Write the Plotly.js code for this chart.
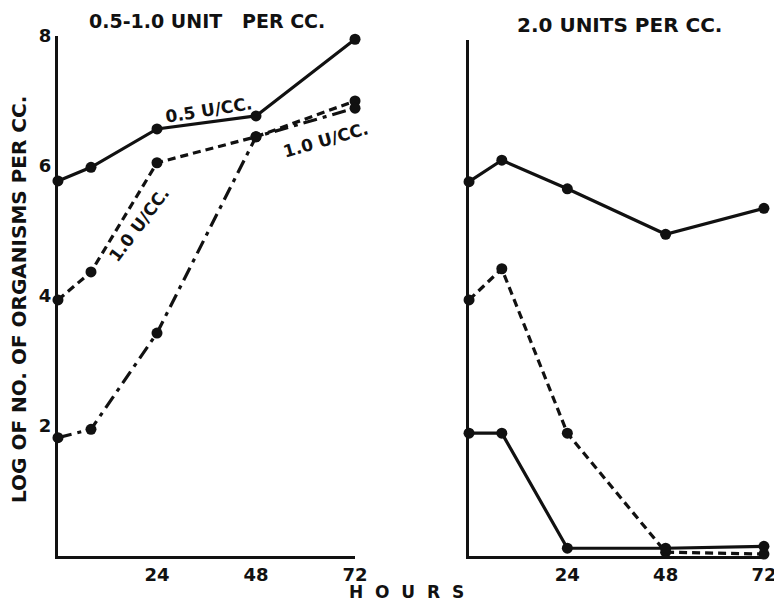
<!DOCTYPE html>
<html><head><meta charset="utf-8">
<script src="https://cdn.plot.ly/plotly-3.0.1.min.js"></script>
<style>body{margin:0;background:#fff}#c{width:774px;height:603px}</style>
</head><body><div id="c"></div>
<script>
// Hours
const hours = [0, 8, 24, 48, 72];
// Left panel: 0.5-1.0 unit per cc
const left05 = [5.77, 5.98, 6.57, 6.77, 7.95];
const left10a = [3.94, 4.37, 6.05, 6.45, 7.0];
const left10b = [1.82, 1.95, 3.43, 6.45, 6.89];
// Right panel: 2.0 units per cc
const rightTop = [5.76, 6.09, 5.65, 4.95, 5.35];
const rightDash = [3.94, 4.42, 1.89, 0.06, 0.03];
const rightLow = [1.89, 1.89, 0.12, 0.12, 0.15];
const yTicks = [2, 4, 6, 8];
const xTicks = [24, 48, 72];

const ink = '#111';
function tr(x, y, dash, xa, ya) {
  return {x: x, y: y, xaxis: xa, yaxis: ya, mode: 'lines+markers', cliponaxis: false,
    line: {color: ink, width: 3.2, dash: dash},
    marker: {color: ink, size: 11, opacity: 1}, hoverinfo: 'none'};
}
const data = [
  tr(hours, left05, 'solid', 'x', 'y'),
  tr(hours, left10a, '8px,5px', 'x', 'y'),
  tr(hours, left10b, '14px,6px,4px,6px', 'x', 'y'),
  tr(hours, rightTop, 'solid', 'x2', 'y2'),
  tr(hours, rightDash, '8px,5px', 'x2', 'y2'),
  tr(hours, rightLow, 'solid', 'x2', 'y2')
];
const F = {family: 'DejaVu Sans, sans-serif', size: 16, color: ink, weight: 'bold'};
function f(s) { return Object.assign({}, F, {size: s}); }
const axBase = {showgrid: false, zeroline: false, showline: true, linecolor: ink, linewidth: 3,
  ticks: '', tickfont: f(18), fixedrange: true, ticklabeloverflow: 'allow'};
function ann(text, x, y, size, angle, xref, yref) {
  return {text: text, x: x, y: y, xref: xref || 'paper', yref: yref || 'paper', xanchor: 'center', yanchor: 'middle',
    textangle: angle || 0, showarrow: false, font: f(size)};
}
const layout = {
  width: 774, height: 603, margin: {l: 0, r: 0, t: 0, b: 0},
  paper_bgcolor: '#fff', plot_bgcolor: 'rgba(0,0,0,0)', showlegend: false,
  xaxis: Object.assign({}, axBase, {domain: [0.0749, 0.4587], range: [0, 72], tickvals: xTicks, anchor: 'y'}),
  yaxis: Object.assign({}, axBase, {domain: [0.0779, 0.9403], range: [0, 8], tickvals: yTicks, anchor: 'x'}),
  xaxis2: Object.assign({}, axBase, {domain: [0.606, 0.987], range: [0, 72], tickvals: xTicks, anchor: 'y2'}),
  yaxis2: Object.assign({}, axBase, {domain: [0.0779, 0.9337], range: [0, 7.94], tickvals: [], showticklabels: false, anchor: 'x2'}),
  annotations: [
    ann('0.5-1.0 UNIT\u00a0\u00a0\u00a0PER CC.', 207/774, 1 - 21/603, 19),
    ann('2.0 UNITS PER CC.', 619/774, 1 - 25/603, 20),
    ann('LOG OF NO. OF ORGANISMS PER CC.', 19/774, 1 - 300/603, 20, -90),
    ann('H\u00a0\u00a0O\u00a0\u00a0U\u00a0\u00a0R\u00a0\u00a0S', 406/774, 1 - 592/603, 17),
    ann('0.5 U/CC.', 36.5, 6.86, 17, -9, 'x', 'y'),
    ann('1.0 U/CC.', 19.5, 5.1, 17, -53, 'x', 'y'),
    ann('1.0 U/CC.', 64.8, 6.4, 17, -16, 'x', 'y')
  ]
};
Plotly.newPlot('c', data, layout, {staticPlot: true, displayModeBar: false});
</script></body></html>
